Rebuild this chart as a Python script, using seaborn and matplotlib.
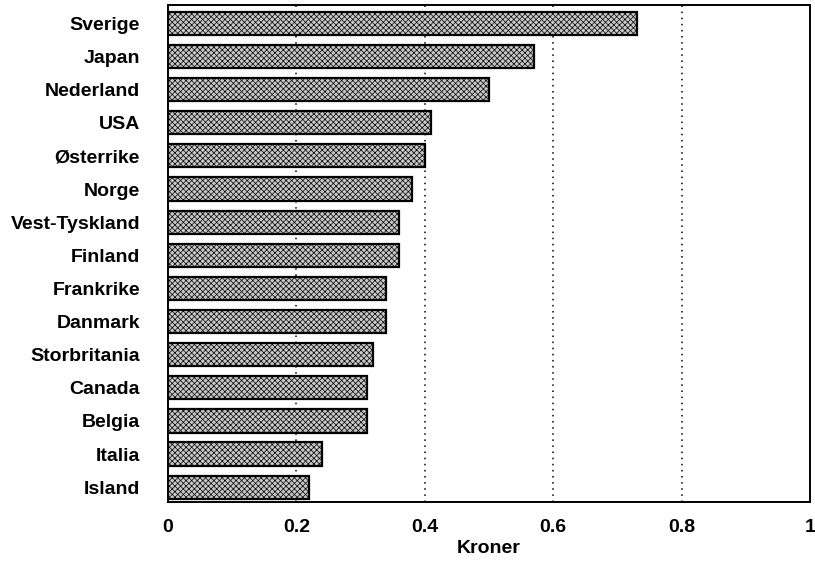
import matplotlib

matplotlib.use("Agg")
import matplotlib.pyplot as plt
import pandas as pd
import seaborn as sns

# Values
countries = [
    "Sverige",
    "Japan",
    "Nederland",
    "USA",
    "Østerrike",
    "Norge",
    "Vest-Tyskland",
    "Finland",
    "Frankrike",
    "Danmark",
    "Storbritania",
    "Canada",
    "Belgia",
    "Italia",
    "Island",
]
kroner = [0.73, 0.57, 0.50, 0.41, 0.40, 0.38, 0.36, 0.36, 0.34, 0.34, 0.32, 0.31, 0.31, 0.24, 0.22]
x_ticks = [0, 0.2, 0.4, 0.6, 0.8, 1]
x_tick_labels = ["0", "0.2", "0.4", "0.6", "0.8", "1"]

df = pd.DataFrame({"land": countries, "kroner": kroner})

sns.set_style("white")
plt.rcParams["font.family"] = ["Liberation Sans", "DejaVu Sans"]
plt.rcParams["font.weight"] = "bold"
plt.rcParams["hatch.color"] = "#7a7a7a"
plt.rcParams["hatch.linewidth"] = 0.5

fig = plt.figure(figsize=(8.15, 5.68), dpi=100)
ax = fig.add_axes([0.206, 0.116, 0.788, 0.875])

sns.barplot(
    data=df,
    x="kroner",
    y="land",
    orient="h",
    color="#c8c8c8",
    edgecolor="black",
    linewidth=1.6,
    width=0.7,
    saturation=1,
    ax=ax,
    zorder=3,
)
for bar in ax.patches:
    bar.set_hatch("xxxxxx")

ax.set_xlim(0, 1)
ax.set_ylim(14.45, -0.55)
ax.set_xticks(x_ticks)
ax.set_xticklabels(x_tick_labels)
ax.xaxis.grid(True, linestyle=(0, (1, 3)), color="black", linewidth=1.1, zorder=0)
ax.yaxis.grid(False)

for spine in ax.spines.values():
    spine.set_visible(True)
    spine.set_color("black")
    spine.set_linewidth(1.4)

ax.tick_params(axis="x", direction="in", length=8, width=1, pad=12, labelsize=14, colors="black")
ax.tick_params(axis="y", direction="in", length=5, width=1, pad=20, labelsize=14, colors="black")
ax.tick_params(top=False, right=False)

ax.set_xlabel("Kroner", fontsize=14, fontweight="bold", color="black", labelpad=3)
ax.set_ylabel("")

fig.savefig("out.png", dpi=100, facecolor="white")
